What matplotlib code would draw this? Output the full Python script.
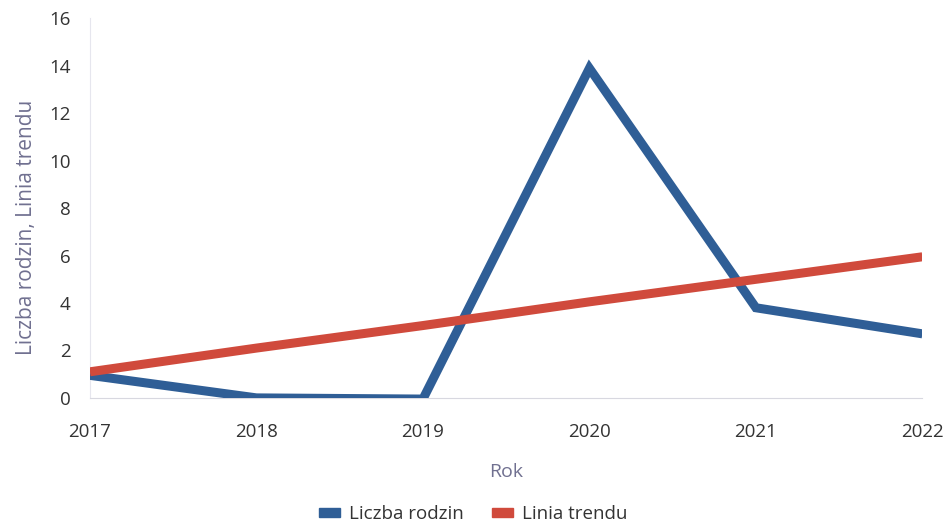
import matplotlib
matplotlib.use("Agg")
import matplotlib.pyplot as plt
from matplotlib.patches import Patch

years = ["2017", "2018", "2019", "2020", "2021", "2022"]
liczba_rodzin = [0.95, 0.0, -0.05, 13.9, 3.8, 2.7]
linia_trendu = [1.1, 2.1, 3.05, 4.05, 5.0, 5.95]
y_ticks = [0, 2, 4, 6, 8, 10, 12, 14, 16]

blue = "#2f5e96"
red = "#d04a3c"

plt.rcParams['font.family'] = ['Open Sans', 'DejaVu Sans']

fig = plt.figure(figsize=(9.47, 5.27), dpi=100)
ax = fig.add_axes([0.095, 0.245, 0.879, 0.72])

x = list(range(len(years)))
ax.plot(x, liczba_rodzin, color=blue, lw=6.5, solid_joinstyle='miter', solid_capstyle='butt', zorder=3)
ax.plot(x, linia_trendu, color=red, lw=6.5, solid_capstyle='butt', zorder=4)

ax.set_xlim(0, 5)
ax.set_ylim(0, 16)
ax.set_yticks(y_ticks)
ax.set_xticks(x)
ax.set_xticklabels(years)
for s in ["top", "right"]:
    ax.spines[s].set_visible(False)
ax.spines["left"].set_color("#e6e6ee")
ax.spines["bottom"].set_color("#d8d8e0")
ax.tick_params(axis='both', length=0, labelsize=13.5, colors="#333333")
ax.tick_params(axis='x', pad=18)
ax.tick_params(axis='y', pad=14)

ax.set_xlabel("Rok", fontsize=14, color="#707090", labelpad=16)
ax.set_ylabel("Liczba rodzin, Linia trendu", fontsize=15, color="#707090")
ax.yaxis.set_label_coords(-0.064, 0.45)

handles = [Patch(color=blue, label="Liczba rodzin"), Patch(color=red, label="Linia trendu")]
fig.legend(handles=handles, loc="lower center", ncol=2, frameon=False, fontsize=13.5,
           bbox_to_anchor=(0.5, -0.025), handlelength=1.1, handleheight=0.4, columnspacing=1.5,
           handletextpad=0.5, labelcolor="#333333")

fig.savefig("out.png", dpi=100)
